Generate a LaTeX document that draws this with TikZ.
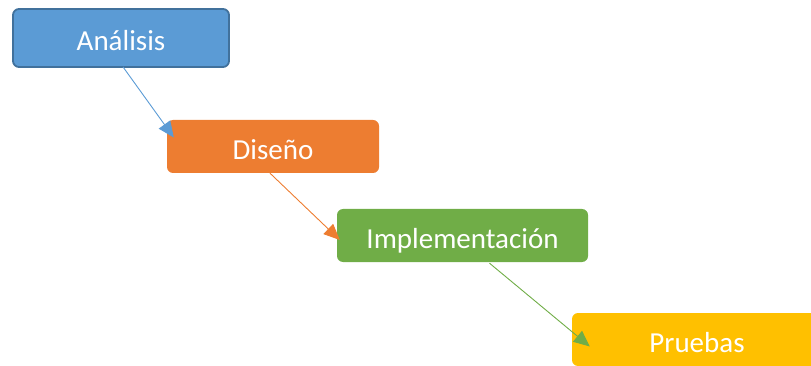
\documentclass[tikz,border=0pt]{standalone}
\usepackage{fontspec}
\setmainfont{Carlito}
\usetikzlibrary{arrows.meta,calc}
\definecolor{cblue}{HTML}{5B9BD5}
\definecolor{cbluedark}{HTML}{41719C}
\definecolor{corange}{HTML}{ED7D31}
\definecolor{cgreen}{HTML}{70AD47}
\definecolor{cyellow}{HTML}{FFC000}
\tikzset{
  stagebox/.style={rectangle, rounded corners=6pt, inner sep=0pt,
    text=white, font=\fontsize{29}{31}\selectfont,
    text height=26pt, text depth=0pt, minimum height=53pt},
  flowarrow/.style={line width=0.9pt, -{Triangle[length=16pt,width=14pt]}}
}
\begin{document}
\begin{tikzpicture}[x=1pt,y=-1pt]
\useasboundingbox (0,0) rectangle (811,366);
\clip (0,0) rectangle (811,366);
\node[stagebox, fill=cblue, draw=cbluedark, line width=1.8pt,
      minimum width=216pt, minimum height=58pt, text height=25pt] (ana) at (121,38) {Análisis};
\node[stagebox, fill=corange, minimum width=212pt] (dis) at (273,146.5) {Diseño};
\node[stagebox, fill=cgreen, minimum width=251pt] (imp) at (462.5,235.5) {Implementación};
\node[stagebox, fill=cyellow, minimum width=250pt] (pru) at (697,339.5) {Pruebas};
\draw[flowarrow, cblue] ($(ana.south)+(2,-1)$) -- ($(dis.west)+(7,-9)$);
\draw[flowarrow, corange] ($(dis.south)+(-3,0)$) -- ($(imp.west)+(3,4.5)$);
\draw[flowarrow, cgreen] ($(imp.south)+(27,1)$) -- ($(pru.west)+(18,7)$);
\end{tikzpicture}
\end{document}
